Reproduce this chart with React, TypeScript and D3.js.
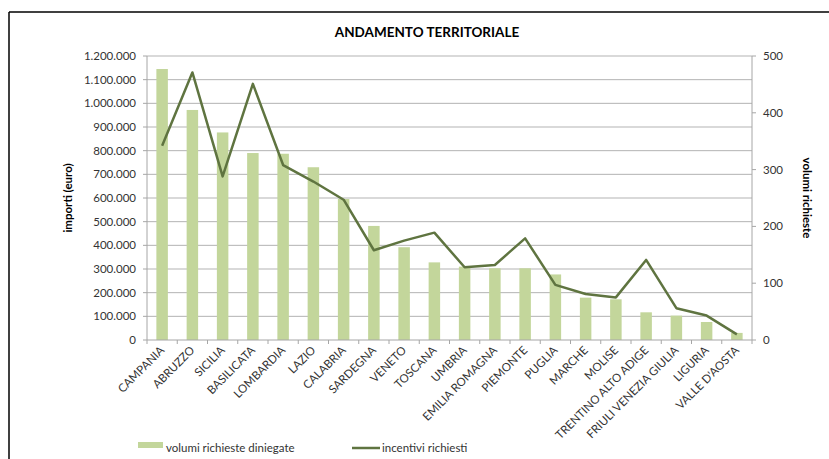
import React from "react";
import * as d3 from "d3";

const categories = [
  "CAMPANIA", "ABRUZZO", "SICILIA", "BASILICATA", "LOMBARDIA", "LAZIO", "CALABRIA",
  "SARDEGNA", "VENETO", "TOSCANA", "UMBRIA", "EMILIA ROMAGNA", "PIEMONTE", "PUGLIA",
  "MARCHE", "MOLISE", "TRENTINO ALTO ADIGE", "FRIULI VENEZIA GIULIA", "LIGURIA", "VALLE D'AOSTA",
];
const importi = [
  1145000, 972000, 877000, 790000, 787000, 730000, 596000, 482000, 392000, 328000,
  310000, 303000, 303000, 277000, 179000, 172000, 117000, 103000, 76000, 30000,
];
const volumi = [
  342, 471, 288, 451, 308, 279, 247, 158, 175, 189,
  128, 132, 179, 97, 81, 75, 141, 56, 43, 10,
];
const leftTicks = [0, 100000, 200000, 300000, 400000, 500000, 600000, 700000, 800000, 900000, 1000000, 1100000, 1200000];
const rightTicks = [0, 100, 200, 300, 400, 500];
const title = "ANDAMENTO TERRITORIALE";
const leftTitle = "importi (euro)";
const rightTitle = "volumi richieste";
const barLegend = "volumi richieste diniegate";
const lineLegend = "incentivi richiesti";

const W = 829, H = 459;
const X0 = 147, X1 = 752, Y0 = 340, Y1 = 56;
const FONT = "Lato, 'Liberation Sans', sans-serif";
const BAR = "#c3d69b";
const LINE = "#5f7440";

const fmt = (v: number) => (v === 0 ? "0" : d3.format(",")(v).replace(/,/g, "."));

export default function App() {
  const x = d3.scaleBand<string>().domain(categories).range([X0, X1]).paddingInner(0).paddingOuter(0);
  const yL = d3.scaleLinear().domain([0, 1200000]).range([Y0, Y1]);
  const yR = d3.scaleLinear().domain([0, 500]).range([Y0, Y1]);
  const bw = x.bandwidth() * 0.38;
  const line = d3.line<number>()
    .x((_, i) => (x(categories[i]) as number) + x.bandwidth() / 2)
    .y((d) => yR(d));

  return (
    <svg width={W} height={H} style={{ position: "absolute", left: 0, top: 0, background: "#fff" }} fontFamily={FONT}>
      <rect x={0} y={0} width={W} height={H} fill="#fff" />
      <line x1={9} y1={12} x2={W} y2={12} stroke="#000" strokeWidth={1.5} />
      <line x1={9} y1={12} x2={9} y2={H} stroke="#000" strokeWidth={1.5} />
      <text x={427} y={37} textAnchor="middle" fontSize={13.5} fontWeight="bold" fill="#000">{title}</text>

      {leftTicks.map((t) => (
        <g key={"g" + t}>
          {t > 0 && <line x1={X0} x2={X1} y1={yL(t)} y2={yL(t)} stroke="#b3b3b3" strokeWidth={1} />}
          <line x1={X0 - 4} x2={X0} y1={yL(t)} y2={yL(t)} stroke="#a6a6a6" />
          <text x={136} y={yL(t)} dy="0.35em" textAnchor="end" fontSize={11.5} fill="#333">{fmt(t)}</text>
        </g>
      ))}
      {rightTicks.map((t) => (
        <g key={"r" + t}>
          <line x1={X1} x2={X1 + 4} y1={yR(t)} y2={yR(t)} stroke="#a6a6a6" />
          <text x={763} y={yR(t)} dy="0.35em" textAnchor="start" fontSize={11.5} fill="#333">{t}</text>
        </g>
      ))}

      {categories.map((c, i) => (
        <rect key={c} x={(x(c) as number) + x.bandwidth() / 2 - bw / 2} y={yL(importi[i])} width={bw} height={Y0 - yL(importi[i])} fill={BAR} />
      ))}

      <line x1={X0} x2={X0} y1={Y1} y2={Y0} stroke="#a6a6a6" />
      <line x1={X1} x2={X1} y1={Y1} y2={Y0} stroke="#a6a6a6" />
      <line x1={X0} x2={X1} y1={Y0} y2={Y0} stroke="#a6a6a6" />
      {categories.map((c, i) => (
        <line key={"t" + c} x1={x(c) as number} x2={x(c) as number} y1={Y0} y2={Y0 + 4} stroke="#a6a6a6" />
      ))}
      <line x1={X1} x2={X1} y1={Y0} y2={Y0 + 4} stroke="#a6a6a6" />

      <path d={line(volumi) as string} fill="none" stroke={LINE} strokeWidth={2.5} strokeLinejoin="round" />

      {categories.map((c) => {
        const cx = (x(c) as number) + x.bandwidth() / 2 + 3;
        return (
          <text key={"l" + c} x={cx} y={351} textAnchor="end" fontSize={11.5} fill="#333" transform={`rotate(-45 ${cx} 351)`}>{c}</text>
        );
      })}

      <text transform={`translate(72 ${(Y0 + Y1) / 2}) rotate(-90)`} textAnchor="middle" fontSize={11.5} fontWeight="bold" fill="#000">{leftTitle}</text>
      <text transform={`translate(803 ${(Y0 + Y1) / 2}) rotate(90)`} textAnchor="middle" fontSize={11.5} fontWeight="bold" fill="#000">{rightTitle}</text>

      <rect x={138} y={442} width={25} height={6} fill={BAR} />
      <text x={166} y={452} fontSize={11.5} fill="#333">{barLegend}</text>
      <line x1={352} x2={380} y1={448} y2={448} stroke={LINE} strokeWidth={2.5} />
      <text x={382} y={452} fontSize={11.5} fill="#333">{lineLegend}</text>
    </svg>
  );
}
